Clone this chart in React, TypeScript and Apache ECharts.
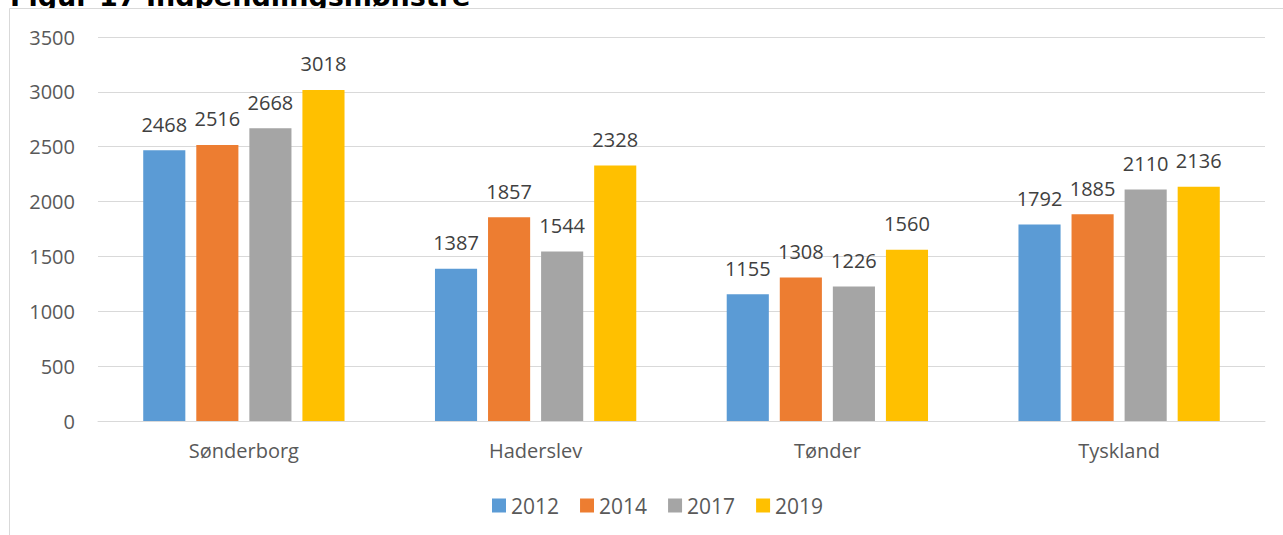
import React, { useEffect, useRef } from "react";
import * as echarts from "echarts";

const categories = ["Sønderborg", "Haderslev", "Tønder", "Tyskland"];
const years = ["2012", "2014", "2017", "2019"];
const s2012 = [2468, 1387, 1155, 1792];
const s2014 = [2516, 1857, 1308, 1885];
const s2017 = [2668, 1544, 1226, 2110];
const s2019 = [3018, 2328, 1560, 2136];
const colors = ["#5B9BD5", "#ED7D31", "#A5A5A5", "#FFC000"];
const titleText = "Figur 17 Indpendlingsmønstre";

export default function App() {
  const ref = useRef<HTMLDivElement>(null);
  useEffect(() => {
    if (!ref.current) return;
    const chart = echarts.init(ref.current, undefined, { renderer: "svg" });
    const seriesData = [s2012, s2014, s2017, s2019];
    const font = "'Open Sans', sans-serif";
    chart.setOption({
      animation: false,
      backgroundColor: "#ffffff",
      color: colors,
      graphic: [
        {
          type: "text",
          left: 10,
          top: -17,
          z: -10,
          style: {
            text: titleText,
            font: "bold 27px 'DejaVu Sans'",
            fill: "#000000",
          },
        },
        {
          type: "rect",
          left: 9,
          top: 8,
          z: -5,
          shape: { width: 1300, height: 560 },
          style: { fill: "#ffffff", stroke: "#D9D9D9", lineWidth: 1 },
        },
      ],
      grid: { left: 98, right: 18, top: 37, bottom: 114, containLabel: false },
      legend: {
        data: years,
        left: 487,
        top: 490,
        itemWidth: 14,
        itemHeight: 14,
        itemGap: 21,
        icon: "rect",
        textStyle: { fontFamily: font, fontSize: 21, color: "#595959" },
      },
      xAxis: {
        type: "category",
        data: categories,
        axisLine: { lineStyle: { color: "#D9D9D9", width: 1 } },
        axisTick: { show: false },
        axisLabel: { fontFamily: font, fontSize: 20, color: "#595959", margin: 19 },
      },
      yAxis: {
        type: "value",
        min: 0,
        max: 3500,
        interval: 500,
        axisLine: { show: false },
        axisTick: { show: false },
        splitLine: { lineStyle: { color: "#D9D9D9", width: 1 } },
        axisLabel: {
          fontFamily: font,
          fontSize: 20,
          color: "#595959",
          margin: 23,
          formatter: (v: number) => String(v),
        },
      },
      series: years.map((y, i) => ({
        name: y,
        type: "bar",
        data: seriesData[i],
        barGap: "26%",
        barCategoryGap: "31%",
        itemStyle: { color: colors[i] },
        label: {
          show: true,
          position: "top",
          distance: 16,
          fontFamily: font,
          fontSize: 20,
          color: "#404040",
        },
      })),
    });
    return () => chart.dispose();
  }, []);
  return (
    <div
      ref={ref}
      style={{ position: "fixed", left: 0, top: 0, width: 1283, height: 535 }}
    />
  );
}
